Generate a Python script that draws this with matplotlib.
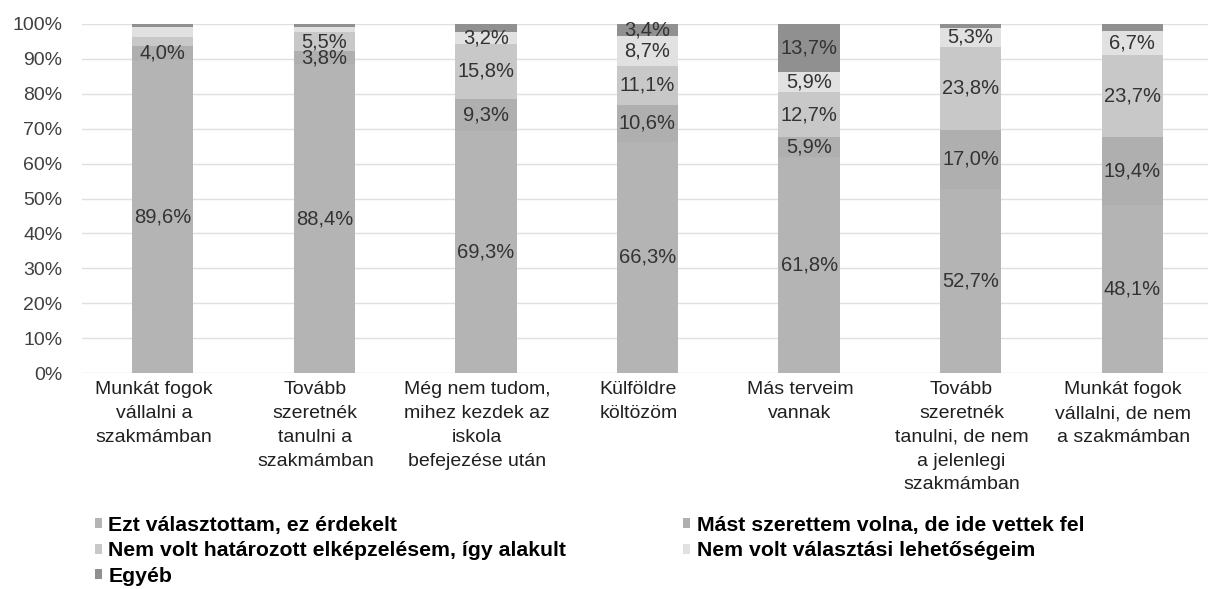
import matplotlib.pyplot as plt
from matplotlib.patches import Patch
from matplotlib.transforms import ScaledTranslation

plt.rcParams['font.family'] = ['Liberation Sans', 'DejaVu Sans']

categories = [
    'Munkát fogok\nvállalni a\nszakmámban',
    'Tovább\nszeretnék\ntanulni a\nszakmámban',
    'Még nem tudom,\nmihez kezdek az\niskola\nbefejezése után',
    'Külföldre\nköltözöm',
    'Más terveim\nvannak',
    'Tovább\nszeretnék\ntanulni, de nem\na jelenlegi\nszakmámban',
    'Munkát fogok\nvállalni, de nem\na szakmámban',
]

series_names = [
    'Ezt választottam, ez érdekelt',
    'Mást szerettem volna, de ide vettek fel',
    'Nem volt határozott elképzelésem, így alakult',
    'Nem volt választási lehetőségeim',
    'Egyéb',
]

ezt = [89.6, 88.4, 69.3, 66.3, 61.8, 52.7, 48.1]
mast = [4.0, 3.8, 9.3, 10.6, 5.9, 17.0, 19.4]
nem_hat = [2.7, 5.5, 15.8, 11.1, 12.7, 23.8, 23.7]
nem_val = [2.7, 1.3, 3.2, 8.7, 5.9, 5.3, 6.7]
egyeb = [1.0, 1.0, 2.4, 3.4, 13.7, 1.2, 2.1]

colors = ['#b4b4b4', '#afafaf', '#c8c8c8', '#e1e1e1', '#909090']

fig = plt.figure(figsize=(12.08, 5.89), dpi=100)
ax = fig.add_axes([82 / 1208, 1 - 373 / 589, 1131 / 1208, 349 / 589])

x = list(range(len(categories)))
bottom = [0.0] * len(categories)
for vals, col in zip([ezt, mast, nem_hat, nem_val, egyeb], colors):
    ax.bar(x, vals, width=0.38, bottom=bottom, color=col, zorder=2)
    for i, v in enumerate(vals):
        if v >= 3.0:
            ax.text(i, bottom[i] + v / 2, f'{v:.1f}%'.replace('.', ','),
                    ha='center', va='center', fontsize=14.5, color='#333333', zorder=3)
    bottom = [b + v for b, v in zip(bottom, vals)]

ax.set_xlim(-0.5, 6.5)
ax.set_ylim(0, 100)
ax.set_yticks(range(0, 101, 10))
ax.set_yticklabels([f'{t}%' for t in range(0, 101, 10)], fontsize=14, color='#404040')
ax.set_xticks(x)
ax.set_xticklabels(categories, fontsize=14, color='#202020', linespacing=1.52, va='top')
ax.tick_params(axis='both', length=0)
ax.tick_params(axis='y', pad=14)
ax.tick_params(axis='x', pad=6)
shift = ScaledTranslation(-9 / 100, 0, fig.dpi_scale_trans)
for lbl in ax.get_xticklabels():
    lbl.set_transform(lbl.get_transform() + shift)

ax.grid(axis='y', color='#e0e0e0', linewidth=1, zorder=0)
for s in ax.spines.values():
    s.set_visible(False)

# legend fills column-wise, so reorder to read row by row
order = [0, 2, 4, 1, 3]
handles = [Patch(facecolor=colors[k], edgecolor='none') for k in order]
labels = [series_names[k] for k in order]
fig.legend(handles, labels, loc='upper left', bbox_to_anchor=(95 / 1208, 1 - 516 / 589),
           ncol=2, frameon=False, prop={'size': 15.3, 'weight': 'bold'},
           handlelength=0.33, handleheight=0.33, handletextpad=0.3,
           columnspacing=5.5, labelspacing=0.3, borderpad=0, borderaxespad=0)

fig.savefig('out.png', dpi=100)
